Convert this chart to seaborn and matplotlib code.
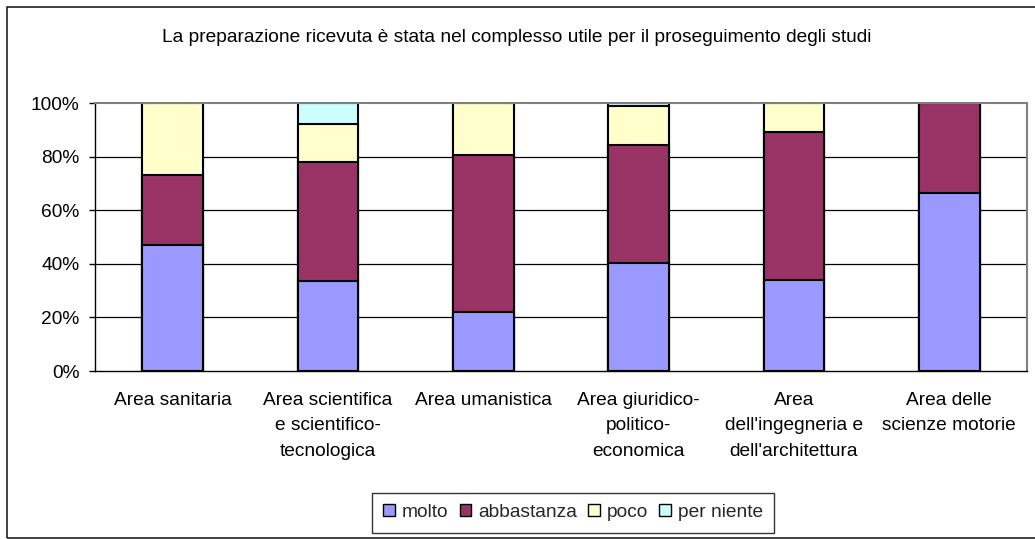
import matplotlib
matplotlib.use("Agg")
import matplotlib.pyplot as plt
from matplotlib import font_manager
from matplotlib.patches import Rectangle
import seaborn as sns
import pandas as pd
import numpy as np

categories = ["Area sanitaria",
              "Area scientifica\ne scientifico-\ntecnologica",
              "Area umanistica",
              "Area giuridico-\npolitico-\neconomica",
              "Area\ndell'ingegneria e\ndell'architettura",
              "Area delle\nscienze motorie"]
series_names = ["molto", "abbastanza", "poco", "per niente"]
molto = [46.9, 33.5, 22.0, 40.2, 34.1, 66.4]
abbastanza = [26.2, 44.4, 58.6, 44.2, 55.1, 33.6]
poco = [26.9, 14.1, 19.4, 14.4, 10.8, 0.0]
per_niente = [0.0, 8.0, 0.0, 1.2, 0.0, 0.0]
colors = ["#9999FF", "#993366", "#FFFFCC", "#CCFFFF"]
title = "La preparazione ricevuta è stata nel complesso utile per il proseguimento degli studi"
yticks = [0, 20, 40, 60, 80, 100]
ytick_labels = ["0%", "20%", "40%", "60%", "80%", "100%"]

sns.set_theme(style="white")
names = [f.name for f in font_manager.fontManager.ttflist]
fam = "Liberation Sans" if "Liberation Sans" in names else "DejaVu Sans"
plt.rcParams['font.family'] = [fam, 'DejaVu Sans']

FS = 13.8

df = pd.DataFrame({"cat": categories, "molto": molto, "abbastanza": abbastanza,
                   "poco": poco, "per niente": per_niente})
cum = df[series_names].cumsum(axis=1)

fig = plt.figure(figsize=(10.35, 5.39), dpi=100)
ax = fig.add_axes([95/1035, 168/539, (1027-95)/1035, (371-103)/539])

for i in range(len(series_names) - 1, -1, -1):
    name = series_names[i]
    d = pd.DataFrame({"cat": categories, "val": cum[name]})
    sns.barplot(data=d, x="cat", y="val", color=colors[i], edgecolor="black",
                linewidth=1.5, width=0.39, ax=ax, saturation=1, order=categories)

ax.set_xlim(-0.5, 5.5)
ax.set_ylim(0, 100)
ax.set_yticks(yticks)
ax.set_yticklabels(ytick_labels, fontsize=FS, color="black")
ax.set_xticks(range(len(categories)))
ax.set_xticklabels(categories, fontsize=FS, color="black", linespacing=1.65)
ax.set_xticks(np.arange(-0.5, 6, 1), minor=True)
ax.tick_params(axis="x", which="major", length=0, pad=15)
ax.tick_params(axis="x", which="minor", length=4, width=1, color="black", direction="out")
ax.tick_params(axis="y", length=4, width=1, color="black", direction="out", left=True, pad=7)
ax.set_xlabel("")
ax.set_ylabel("")
for y in yticks[1:-1]:
    ax.axhline(y, color="black", lw=0.9, zorder=0.5)
ax.set_axisbelow(True)
ax.spines["left"].set_color("black")
ax.spines["bottom"].set_color("black")
ax.spines["left"].set_linewidth(1)
ax.spines["bottom"].set_linewidth(1)
ax.spines["top"].set_color("#808080")
ax.spines["right"].set_color("#808080")
ax.spines["top"].set_linewidth(1.5)
ax.spines["right"].set_linewidth(1.5)

fig.text(517/1035, 1 - 37/539, title, ha="center", va="center", fontsize=FS, color="black")

# outer chart border
fig.patches.append(Rectangle((7/1035, 1/539), 1.2, (538-7)/539, transform=fig.transFigure,
                             fill=False, edgecolor="#202020", lw=1.2))

handles = [Rectangle((0, 0), 1, 1, facecolor=c, edgecolor="black", lw=1) for c in colors]
leg = fig.legend(handles, series_names, loc="center", bbox_to_anchor=(573/1035, 1 - 512.5/539),
                 ncol=4, frameon=True, fontsize=FS, handlelength=0.6, handleheight=0.6,
                 handletextpad=0.35, columnspacing=0.6, borderpad=0.6, fancybox=False)
leg.get_frame().set_edgecolor("black")
leg.get_frame().set_linewidth(1)

fig.savefig("out.png", dpi=100)
